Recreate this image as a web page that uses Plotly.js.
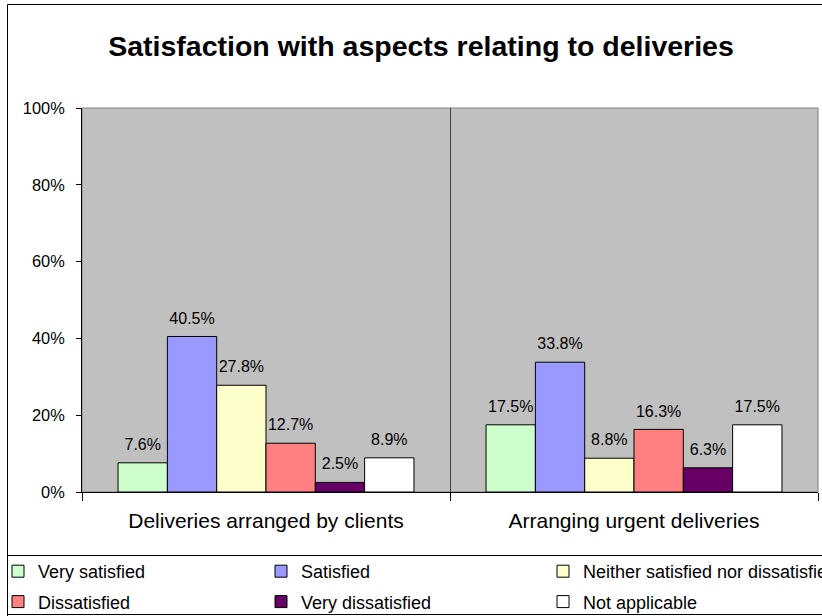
<!DOCTYPE html>
<html>
<head>
<meta charset="utf-8">
<script src="https://cdn.plot.ly/plotly-3.0.1.min.js"></script>
<style>
  html, body { margin: 0; padding: 0; background: #ffffff; }
  #chart { width: 822px; height: 616px; }
</style>
</head>
<body>
<div id="chart"></div>
<script>
// ---- data ----
const categories = ["Deliveries arranged by clients", "Arranging urgent deliveries"];
const seriesNames = ["Very satisfied", "Satisfied", "Neither satisfied nor dissatisfied",
                     "Dissatisfied", "Very dissatisfied", "Not applicable"];
const verySatisfied = [7.6, 17.5];
const satisfied = [40.5, 33.8];
const neither = [27.8, 8.8];
const dissatisfied = [12.7, 16.3];
const veryDissatisfied = [2.5, 6.3];
const notApplicable = [8.9, 17.5];
const yTickVals = [0, 20, 40, 60, 80, 100];

const seriesValues = [verySatisfied, satisfied, neither, dissatisfied, veryDissatisfied, notApplicable];
const colors = ["#CCFFCC", "#9999FF", "#FFFFCC", "#FF8080", "#660066", "#FFFFFF"];
const legendOf = ["legend", "legend2", "legend3", "legend", "legend2", "legend3"];

const FONT = "Liberation Sans, Arial, sans-serif";

// bars (with legend entries)
const barTraces = seriesNames.map((name, i) => ({
  type: "bar",
  name: name,
  x: categories,
  y: seriesValues[i],
  marker: { color: colors[i], line: { color: "#000000", width: 1 } },
  hoverinfo: "skip",
  legend: legendOf[i],
  legendgroup: "g" + i
}));

// value labels: same bars, transparent, on an overlaid axis lifted slightly
const labelTraces = seriesNames.map((name, i) => ({
  type: "bar",
  name: name,
  x: categories,
  y: seriesValues[i],
  yaxis: "y2",
  marker: { color: "rgba(0,0,0,0)", line: { width: 0 } },
  text: seriesValues[i].map(v => v.toFixed(1) + "%"),
  textposition: "outside",
  textfont: { family: FONT, size: 16, color: "#000000" },
  constraintext: "none",
  cliponaxis: false,
  hoverinfo: "skip",
  showlegend: false
}));

// plot area in pixels: x 82..818, y 108..492
const PL = 82, PW = 736, PT = 108, PH = 384, W = 822, H = 616;
const px = v => (v - PL) / PW;
const py = v => (PT + PH - v) / PH;
const LIFT = 1.8; // label lift in axis units

const legendCommon = {
  orientation: "v",
  bgcolor: "rgba(0,0,0,0)",
  borderwidth: 0,
  font: { family: FONT, size: 18, color: "#000000" },
  tracegroupgap: 4,
  xref: "paper",
  yref: "container",
  xanchor: "left",
  yanchor: "top",
  y: 1 - 553 / H,
  itemclick: false,
  itemdoubleclick: false
};

const layout = {
  width: W,
  height: H,
  margin: { l: PL, r: W - PL - PW, t: PT, b: H - PT - PH, pad: 0, autoexpand: false },
  paper_bgcolor: "#ffffff",
  plot_bgcolor: "#C0C0C0",
  barmode: "group",
  bargap: 0.196,
  bargroupgap: 0,
  font: { family: FONT, color: "#000000" },
  title: {
    text: "<b>Satisfaction with aspects relating to deliveries</b>",
    font: { family: FONT, size: 28.5, color: "#000000" },
    xref: "container", x: 421 / W, xanchor: "center",
    yref: "container", y: 1 - 46 / H, yanchor: "middle"
  },
  xaxis: {
    type: "category",
    range: [-0.5, 1.5],
    tickson: "boundaries",
    ticks: "outside",
    ticklen: 8,
    tickcolor: "#000000",
    tickangle: 0,
    showgrid: true,
    gridcolor: "#404040",
    gridwidth: 1,
    showline: true,
    linecolor: "#000000",
    linewidth: 1,
    tickfont: { family: FONT, size: 21, color: "#000000" },
    ticklabelstandoff: 10,
    automargin: false,
    fixedrange: true
  },
  yaxis: {
    range: [0, 100],
    tickvals: yTickVals,
    ticktext: yTickVals.map(v => v + "%"),
    ticks: "outside",
    ticklen: 5,
    tickcolor: "#000000",
    showgrid: false,
    zeroline: false,
    showline: true,
    linecolor: "#000000",
    linewidth: 1,
    tickfont: { family: FONT, size: 16.4, color: "#000000" },
    ticklabelstandoff: 8,
    automargin: false,
    fixedrange: true
  },
  yaxis2: {
    overlaying: "y",
    range: [-LIFT, 100 - LIFT],
    visible: false,
    fixedrange: true
  },
  legend: Object.assign({}, legendCommon, { x: px(-2) }),
  legend2: Object.assign({}, legendCommon, { x: px(261) }),
  legend3: Object.assign({}, legendCommon, { x: px(543) }),
  shapes: [
    // plot area border (grey)
    { type: "rect", xref: "paper", yref: "paper", x0: 0, x1: 1, y0: 0, y1: 1,
      line: { color: "#808080", width: 1 }, fillcolor: "rgba(0,0,0,0)", layer: "below" },
    // outer chart border
    { type: "rect", xref: "paper", yref: "paper", x0: px(7.5), x1: px(840), y0: py(640), y1: py(4.5),
      line: { color: "#000000", width: 1 }, fillcolor: "rgba(0,0,0,0)", layer: "below" },
    // legend box
    { type: "rect", xref: "paper", yref: "paper", x0: px(7.5), x1: px(840), y0: py(614.5), y1: py(555.5),
      line: { color: "#000000", width: 1 }, fillcolor: "rgba(0,0,0,0)", layer: "below" }
  ],
  showlegend: true
};

Plotly.newPlot("chart", barTraces.concat(labelTraces), layout, { displayModeBar: false, staticPlot: true });
</script>
</body>
</html>
